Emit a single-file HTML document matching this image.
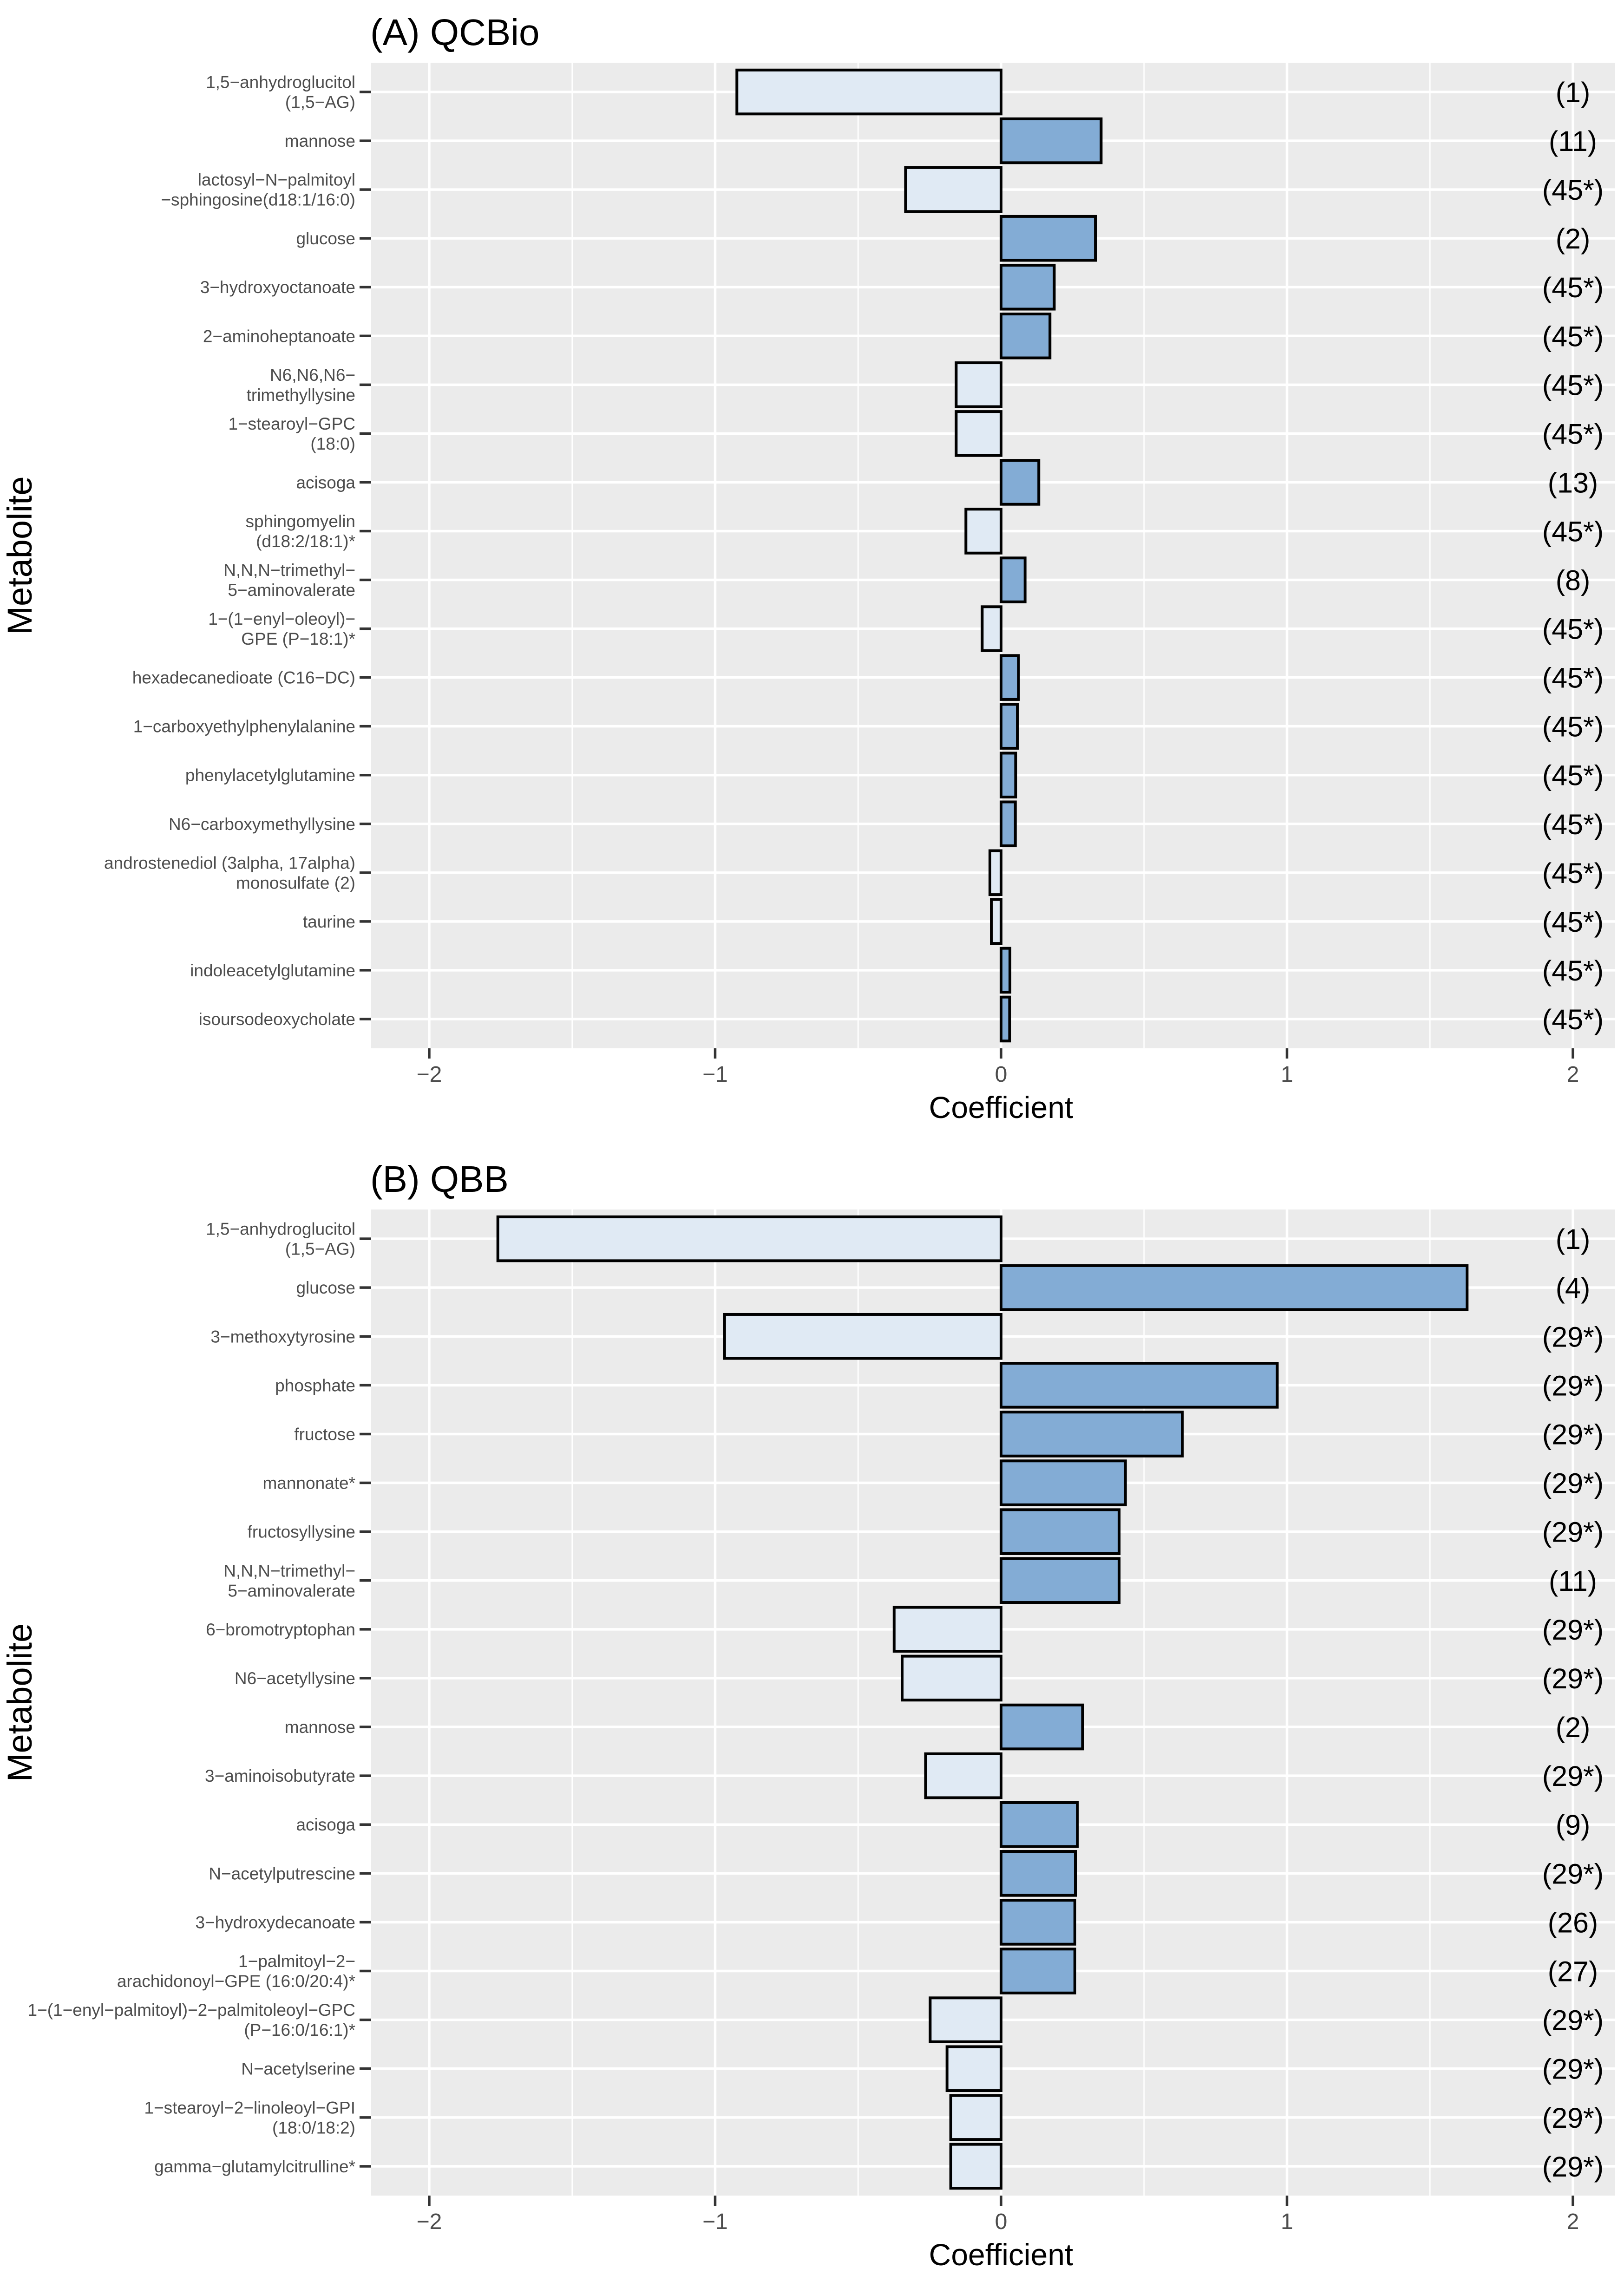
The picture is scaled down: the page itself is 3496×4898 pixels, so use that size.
<!DOCTYPE html>
<html><head><meta charset="utf-8">
<style>
html,body{margin:0;padding:0;background:#fff;}
svg{display:block;font-family:"Liberation Sans",sans-serif;}
</style></head>
<body>
<svg id="chart" width="3496" height="4898" viewBox="0 0 3496 4898" xmlns="http://www.w3.org/2000/svg"></svg>
<script>
const panelATitle = "(A) QCBio";
const panelALabels = [
  ["1,5\u2212anhydroglucitol","(1,5\u2212AG)"],["mannose"],["lactosyl\u2212N\u2212palmitoyl","\u2212sphingosine(d18:1/16:0)"],
  ["glucose"],["3\u2212hydroxyoctanoate"],["2\u2212aminoheptanoate"],["N6,N6,N6\u2212","trimethyllysine"],
  ["1\u2212stearoyl\u2212GPC","(18:0)"],["acisoga"],["sphingomyelin","(d18:2/18:1)*"],["N,N,N\u2212trimethyl\u2212","5\u2212aminovalerate"],
  ["1\u2212(1\u2212enyl\u2212oleoyl)\u2212","GPE (P\u221218:1)*"],["hexadecanedioate (C16\u2212DC)"],["1\u2212carboxyethylphenylalanine"],
  ["phenylacetylglutamine"],["N6\u2212carboxymethyllysine"],["androstenediol (3alpha, 17alpha)","monosulfate (2)"],
  ["taurine"],["indoleacetylglutamine"],["isoursodeoxycholate"]
];
const panelAValues = [-0.924,0.35,-0.334,0.33,0.186,0.171,-0.157,-0.157,0.132,-0.123,0.084,-0.066,0.061,0.057,0.051,0.05,-0.039,-0.034,0.031,0.030];
const panelARanks = ["(1)","(11)","(45*)","(2)","(45*)","(45*)","(45*)","(45*)","(13)","(45*)","(8)","(45*)","(45*)","(45*)","(45*)","(45*)","(45*)","(45*)","(45*)","(45*)"];

const panelBTitle = "(B) QBB";
const panelBLabels = [
  ["1,5\u2212anhydroglucitol","(1,5\u2212AG)"],["glucose"],["3\u2212methoxytyrosine"],["phosphate"],["fructose"],["mannonate*"],
  ["fructosyllysine"],["N,N,N\u2212trimethyl\u2212","5\u2212aminovalerate"],["6\u2212bromotryptophan"],["N6\u2212acetyllysine"],["mannose"],
  ["3\u2212aminoisobutyrate"],["acisoga"],["N\u2212acetylputrescine"],["3\u2212hydroxydecanoate"],
  ["1\u2212palmitoyl\u22122\u2212","arachidonoyl\u2212GPE (16:0/20:4)*"],["1\u2212(1\u2212enyl\u2212palmitoyl)\u22122\u2212palmitoleoyl\u2212GPC","(P\u221216:0/16:1)*"],
  ["N\u2212acetylserine"],["1\u2212stearoyl\u22122\u2212linoleoyl\u2212GPI","(18:0/18:2)"],["gamma\u2212glutamylcitrulline*"]
];
const panelBValues = [-1.76,1.63,-0.967,0.966,0.634,0.435,0.413,0.413,-0.374,-0.346,0.285,-0.264,0.267,0.26,0.258,0.258,-0.248,-0.189,-0.176,-0.176];
const panelBRanks = ["(1)","(4)","(29*)","(29*)","(29*)","(29*)","(29*)","(11)","(29*)","(29*)","(2)","(29*)","(9)","(29*)","(26)","(27)","(29*)","(29*)","(29*)","(29*)"];

const xTicks = [-2,-1,0,1,2];
const xMinor = [-1.5,-0.5,0.5,1.5];

const NS = "http://www.w3.org/2000/svg";
const svg = document.getElementById("chart");
function mk(tag, attrs, parent){
  const e = document.createElementNS(NS, tag);
  for (const k in attrs) e.setAttribute(k, attrs[k]);
  (parent||svg).appendChild(e);
  return e;
}
const PL = 799, PR = 3477;
function xs(v){ return 2155 + v*615.5; }

function drawPanel(top, bottom, title, labels, values, ranks, key){
  const g = mk("g", {});
  
  
  const n = labels.length;
  const step = (bottom - top) / (n - 1 + 1.2);
  function ys(i){ return top + 0.6*step + i*step; }

  const t = mk("text", {x:797, y: top-38, "font-size":80, fill:"#000"}, g);
  t.textContent = title;
  
  

  const bg = mk("rect", {x:PL, y:top, width:PR-PL, height:bottom-top, fill:"#ebebeb"}, g);
  
  

  xMinor.forEach(v => {
    const l = mk("line", {x1:xs(v), x2:xs(v), y1:top, y2:bottom, stroke:"#fff", "stroke-width":2.8}, g);
    
    
  });
  xTicks.forEach(v => {
    const l = mk("line", {x1:xs(v), x2:xs(v), y1:top, y2:bottom, stroke:"#fff", "stroke-width":5.5}, g);
    
    
  });
  for (let i=0;i<n;i++){
    const l = mk("line", {x1:PL, x2:PR, y1:ys(i), y2:ys(i), stroke:"#fff", "stroke-width":5.5}, g);
    
    
  }

  const half = 0.45*step;
  for (let i=0;i<n;i++){
    const v = values[i];
    const x0 = Math.min(xs(0), xs(v)), w = Math.abs(xs(v)-xs(0));
    const r = mk("rect", {x:x0, y:ys(i)-half, width:w, height:2*half,
      fill: v>=0 ? "#83acd5" : "#e0eaf4", stroke:"#000", "stroke-width":6}, g);
    
    

    const rk = mk("text", {x:xs(2), y:ys(i)+22, "font-size":61, "text-anchor":"middle", fill:"#000"}, g);
    rk.textContent = ranks[i];
    
    

    const tk = mk("line", {x1:774, x2:799, y1:ys(i), y2:ys(i), stroke:"#333", "stroke-width":5.5}, g);
    
    

    const lines = labels[i];
    const lt = mk("text", {x:765, "font-size":37, "text-anchor":"end", fill:"#4d4d4d"}, g);
    
    
    const lh = 43;
    const y0 = ys(i) + 13 - (lines.length-1)*lh/2;
    lines.forEach((s, j) => {
      const ts = mk("tspan", {x:765, y:y0 + j*lh}, lt);
      ts.textContent = s;
    });
  }

  xTicks.forEach(v => {
    const tk = mk("line", {x1:xs(v), x2:xs(v), y1:bottom, y2:bottom+22, stroke:"#333", "stroke-width":5.5}, g);
    
    
    const tl = mk("text", {x:xs(v), y:bottom+72, "font-size":48, "text-anchor":"middle", fill:"#4d4d4d"}, g);
    tl.textContent = v < 0 ? "\u2212" + Math.abs(v) : String(v);
    
    
  });

  const xt = mk("text", {x:xs(0), y:bottom+150, "font-size":66, "text-anchor":"middle", fill:"#000"}, g);
  xt.textContent = "Coefficient";
  
  

  const cy = (top+bottom)/2;
  const yt = mk("text", {x:0, y:0, "font-size":74, "text-anchor":"middle", fill:"#000",
    transform:"translate(68," + cy + ") rotate(-90)"}, g);
  yt.textContent = "Metabolite";
  
  
}

drawPanel(135, 2257, panelATitle, panelALabels, panelAValues, panelARanks, "qcbio");
drawPanel(2604, 4727, panelBTitle, panelBLabels, panelBValues, panelBRanks, "qbb");
</script>
</body></html>
